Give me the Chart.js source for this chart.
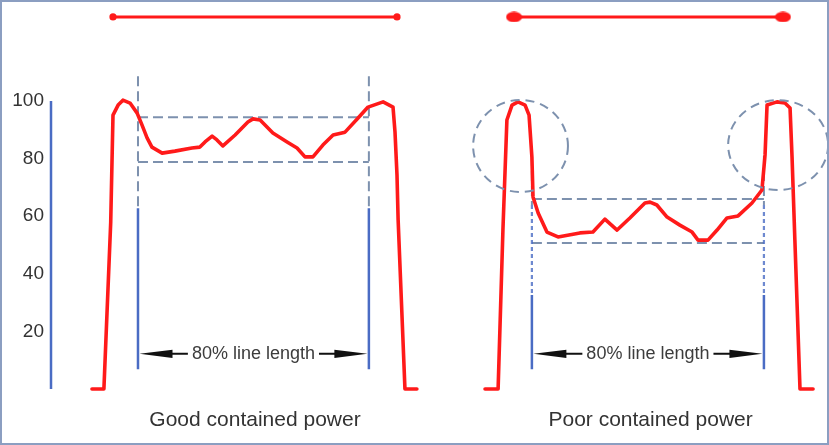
<!DOCTYPE html>
<html><head><meta charset="utf-8">
<script src="https://cdn.jsdelivr.net/npm/chart.js@4.4.1/dist/chart.umd.min.js"></script>
<style>
html,body{margin:0;padding:0;background:#fff;}
#frame{width:829px;height:445px;box-sizing:border-box;border:2px solid #8b9ec1;overflow:hidden;background:#fff;}
canvas{display:block;}
</style></head><body>
<div id="frame"><canvas id="c" width="825" height="441" style="width:825px;height:441px"></canvas></div>
<script>
// ---- data (x: position along the line, % of full line length; y: power %) ----
const yTicks = [20, 40, 60, 80, 100];
const panelLabels = ['Good contained power', 'Poor contained power'];
const panelCenters = [50.0, 189.3];
const spanLabel = '80% line length';

const goodX = [-7.4, -3.2, -0.8, 0, 1.8, 3.5, 6.0, 8.5, 10.2, 12.0, 13.7, 17.3, 21.8, 27.8, 30.6, 32.4, 34.9, 36.6, 38.7, 43.0, 47.5, 49.3, 51.8, 56.3, 61.3, 64.8, 67.6, 70.4, 73.9, 77.5, 81.7, 86.3, 89.8, 95.1, 98.6, 99.3, 100.0, 100.4, 102.8, 107.0];
const goodY = [0, 0, 58.0, 95.1, 98.6, 100.3, 99.3, 95.8, 91.7, 87.2, 84.0, 81.9, 82.6, 83.7, 84.0, 85.8, 87.8, 86.5, 84.4, 88.2, 92.7, 93.8, 93.4, 88.9, 85.8, 83.7, 80.6, 80.6, 84.7, 88.2, 89.2, 94.1, 97.9, 99.7, 97.9, 89.2, 74.3, 58.7, 0, 0];

const poorX = [131.0, 135.6, 137.3, 138.7, 140.5, 142.6, 145.1, 146.5, 147.5, 147.9, 149.7, 152.8, 156.7, 164.4, 169.0, 173.2, 177.5, 182.0, 187.3, 189.1, 191.5, 195.1, 199.6, 203.9, 206.0, 209.5, 212.7, 216.2, 220.1, 225.0, 228.5, 229.6, 230.3, 233.8, 236.6, 238.4, 239.1, 240.1, 241.9, 246.5];
const poorY = [0, 0, 55.2, 93.4, 98.6, 99.7, 98.6, 95.1, 80.6, 66.7, 61.1, 54.5, 52.8, 54.2, 54.5, 59.0, 55.2, 59.4, 64.6, 64.9, 63.9, 59.7, 56.9, 54.5, 51.7, 51.7, 55.2, 59.4, 60.1, 64.6, 69.1, 81.3, 98.6, 99.7, 99.3, 97.6, 80.6, 51.7, 0, 0];

const lineLevel = 129.2;             // full line length bar
const goodLine = [0, 100];
const poorLine = [141.2, 235.9];

const goodSpan = [8.8, 90.1];        // 80% line length
const poorSpan = [147.5, 229.2];
const goodBand = [94.4, 78.8];       // max / min of the span
const poorBand = [66.0, 50.7];
const arrowLevel = 12.2;
const goodGuide = {top: 108.6, blueFrom: 62.8, solidFrom: 62.8, bottom: 6.9};
const poorGuide = {top: 80.9, blueFrom: 63.9, solidFrom: 32.6, bottom: 6.9};
const rings = [{cx: 143.5, cy: 84.4, rx: 16.7, ry: 16.0}, {cx: 234.2, cy: 84.7, rx: 17.6, ry: 15.6}];

const X_MIN = -21.83, X_MAX = 251.41, Y_MAX = 133;

// ---- styles ----
const RED = '#ff1a1a', BLUE = '#4a6cc4', GUIDE = '#7d91ae';
Chart.defaults.font.family = '"Liberation Sans", Arial, sans-serif';

const pts = (xs, ys) => xs.map((x, i) => ({x, y: ys[i]}));
const gap = {x: null, y: null};

function guideSegments(span, band, g) {
  return [
    {x: span[0], y: g.top}, {x: span[0], y: g.blueFrom}, gap,
    {x: span[1], y: g.top}, {x: span[1], y: g.blueFrom}, gap,
    {x: span[0], y: band[0]}, {x: span[1], y: band[0]}, gap,
    {x: span[0], y: band[1]}, {x: span[1], y: band[1]}
  ];
}
function blueSegments(span, from, to) {
  return [{x: span[0], y: from}, {x: span[0], y: to}, gap, {x: span[1], y: from}, {x: span[1], y: to}];
}

const dot = document.createElement('canvas');
dot.width = 17; dot.height = 11;
(() => { const g = dot.getContext('2d'); g.fillStyle = RED; g.beginPath(); g.ellipse(8.5, 5.5, 8, 5.2, 0, 0, Math.PI * 2); g.fill(); })();

const base = {showLine: true, pointRadius: 0, tension: 0, clip: false, spanGaps: false};

const datasets = [
  {...base, label: 'good', data: pts(goodX, goodY), borderColor: RED, borderWidth: 3.6, borderJoinStyle: 'round', borderCapStyle: 'round'},
  {...base, label: 'poor', data: pts(poorX, poorY), borderColor: RED, borderWidth: 3.6, borderJoinStyle: 'round', borderCapStyle: 'round'},
  {...base, label: 'goodLine', data: goodLine.map(x => ({x, y: lineLevel})), borderColor: RED, borderWidth: 3, pointRadius: 3.6, pointBackgroundColor: RED, pointBorderColor: RED, pointBorderWidth: 0},
  {...base, label: 'poorLine', data: poorLine.map(x => ({x, y: lineLevel})), borderColor: RED, borderWidth: 3, pointStyle: dot, pointRadius: 6},
  {...base, label: 'axis', data: [{x: X_MIN, y: 0}, {x: X_MIN, y: 100}], borderColor: BLUE, borderWidth: 2.5},
  {...base, label: 'goodBlue', data: blueSegments(goodSpan, goodGuide.blueFrom, goodGuide.bottom), borderColor: BLUE, borderWidth: 2.5},
  {...base, label: 'poorBlueSolid', data: blueSegments(poorSpan, poorGuide.solidFrom, poorGuide.bottom), borderColor: BLUE, borderWidth: 2.5},
  {...base, label: 'poorBlueDash', data: blueSegments(poorSpan, poorGuide.blueFrom, poorGuide.solidFrom), borderColor: 'rgba(74,108,196,0.8)', borderWidth: 2.2, borderDash: [4, 3]},
  {...base, label: 'goodGuide', data: guideSegments(goodSpan, goodBand, goodGuide), borderColor: GUIDE, borderWidth: 2, borderDash: [10, 5]},
  {...base, label: 'poorGuide', data: guideSegments(poorSpan, poorBand, poorGuide), borderColor: GUIDE, borderWidth: 2, borderDash: [10, 5]}
];

const annotations = {
  id: 'annotations',
  afterDatasetsDraw(chart) {
    const {ctx, scales: {x, y}} = chart;
    ctx.save();
    // dashed rings
    ctx.strokeStyle = GUIDE; ctx.lineWidth = 2; ctx.setLineDash([9, 6]);
    for (const r of rings) {
      const px = x.getPixelForValue(r.cx), py = y.getPixelForValue(r.cy);
      const rx = x.getPixelForValue(r.cx + r.rx) - px;
      const ry = py - y.getPixelForValue(r.cy + r.ry);
      ctx.beginPath(); ctx.ellipse(px, py, rx, ry, 0, 0, Math.PI * 2); ctx.stroke();
    }
    ctx.setLineDash([]);
    // 80% arrows
    ctx.font = '18px "Liberation Sans", Arial, sans-serif';
    const w = ctx.measureText(spanLabel).width;
    for (const s of [goodSpan, poorSpan]) {
      const x1 = x.getPixelForValue(s[0]) + 1.5, x2 = x.getPixelForValue(s[1]) - 1.5;
      const yy = y.getPixelForValue(arrowLevel);
      const mid = (x1 + x2) / 2;
      ctx.fillStyle = '#3c3c3c'; ctx.textAlign = 'center'; ctx.textBaseline = 'middle';
      ctx.fillText(spanLabel, mid, yy);
      ctx.strokeStyle = '#111'; ctx.lineWidth = 2;
      ctx.beginPath();
      ctx.moveTo(x1 + 28, yy); ctx.lineTo(mid - w / 2 - 4, yy);
      ctx.moveTo(mid + w / 2 + 4, yy); ctx.lineTo(x2 - 28, yy);
      ctx.stroke();
      ctx.fillStyle = '#111';
      for (const [tx, dir] of [[x1, 1], [x2, -1]]) {
        ctx.beginPath();
        ctx.moveTo(tx, yy);
        ctx.lineTo(tx + dir * 33, yy - 4.2);
        ctx.lineTo(tx + dir * 33, yy + 4.2);
        ctx.closePath(); ctx.fill();
      }
    }
    ctx.restore();
  }
};

new Chart(document.getElementById('c'), {
  type: 'scatter',
  data: {datasets},
  plugins: [annotations],
  options: {
    responsive: false,
    animation: false,
    events: [],
    layout: {autoPadding: false, padding: {top: 4, left: 4, right: 0, bottom: 0}},
    plugins: {legend: {display: false}, tooltip: {enabled: false}},
    scales: {
      x: {
        type: 'linear', min: X_MIN, max: X_MAX, position: 'bottom',
        grid: {display: false, drawTicks: false}, border: {display: false},
        afterBuildTicks: s => { s.ticks = panelCenters.map(v => ({value: v})); },
        afterFit: s => { s.height = 54; s.paddingLeft = 0; s.paddingRight = 0; },
        ticks: {autoSkip: false, maxRotation: 0, padding: 19, color: '#333', font: {size: 21},
          callback: (v, i) => panelLabels[i]}
      },
      y: {
        type: 'linear', min: 0, max: Y_MAX, position: 'left',
        grid: {display: false, drawTicks: false}, border: {display: false},
        afterBuildTicks: s => { s.ticks = yTicks.map(v => ({value: v})); },
        afterFit: s => { s.width = 45; s.paddingTop = 0; s.paddingBottom = 0; },
        ticks: {padding: 7, color: '#333', font: {size: 19}}
      }
    }
  }
});
</script>
</body></html>
